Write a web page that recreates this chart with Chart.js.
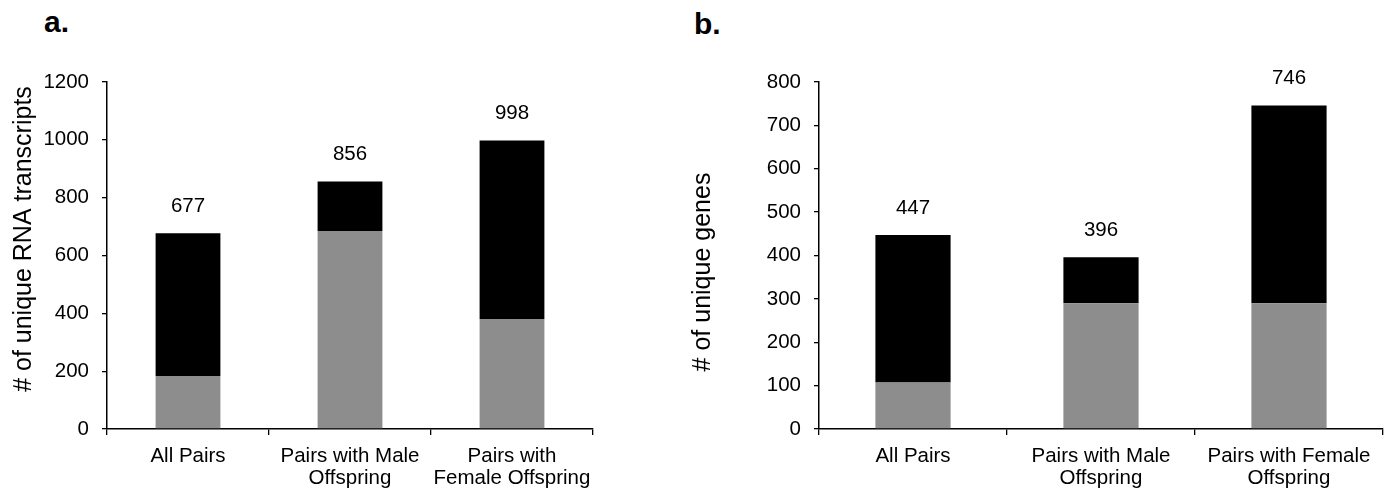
<!DOCTYPE html>
<html>
<head>
<meta charset="utf-8">
<script src="https://cdn.jsdelivr.net/npm/chart.js@4"></script>
<style>
  body { margin: 0; background: #fff; font-family: "Liberation Sans", Arial, sans-serif; }
  .panel { position: absolute; top: 0; height: 492px; }
  .tag { position: absolute; font: bold 30px "Liberation Sans", Arial, sans-serif; color: #000; }
</style>
</head>
<body>
<div class="tag" style="left:44px;top:5px">a.</div>
<div class="tag" style="left:694px;top:7px">b.</div>
<div class="panel" style="left:0;width:650px"><canvas id="chartA"></canvas></div>
<div class="panel" style="left:660px;width:728px"><canvas id="chartB"></canvas></div>
<script>
const categories = [["All Pairs"], ["Pairs with Male", "Offspring"], ["Pairs with", "Female Offspring"]];
const categoriesB = [["All Pairs"], ["Pairs with Male", "Offspring"], ["Pairs with Female", "Offspring"]];

// a. transcripts
const transcriptsGray = [183, 685, 380];
const transcriptsBlack = [494, 171, 618];
// b. genes
const genesGray = [107, 290, 290];
const genesBlack = [340, 106, 456];

const GRAY = '#8d8d8d';
const FONT = { family: '"Liberation Sans", Arial, sans-serif', size: 20.5 };

// total above each stacked bar
const totalLabels = {
  id: 'totalLabels',
  afterDatasetsDraw(chart) {
    const ctx = chart.ctx;
    const top = chart.getDatasetMeta(chart.data.datasets.length - 1);
    ctx.save();
    ctx.font = '20.5px "Liberation Sans", Arial, sans-serif';
    ctx.fillStyle = '#000';
    ctx.textAlign = 'center';
    ctx.textBaseline = 'alphabetic';
    top.data.forEach((bar, i) => {
      const total = chart.data.datasets.reduce((s, d) => s + d.data[i], 0);
      ctx.fillText(total, bar.x, bar.y - 21);
    });
    ctx.restore();
  }
};

// rotated y title
const sideTitle = {
  id: 'sideTitle',
  afterDraw(chart, args, opts) {
    const ctx = chart.ctx;
    ctx.save();
    ctx.translate(opts.x, opts.y);
    ctx.rotate(-Math.PI / 2);
    ctx.font = '25px "Liberation Sans", Arial, sans-serif';
    ctx.fillStyle = '#000';
    ctx.textAlign = 'center';
    ctx.textBaseline = 'middle';
    ctx.fillText(opts.text, 0, 0);
    ctx.restore();
  }
};

function makeChart(id, labels, gray, black, max, step, yWidth, padRight, title) {
  new Chart(document.getElementById(id), {
    type: 'bar',
    data: {
      labels: labels,
      datasets: [
        { data: gray, backgroundColor: GRAY, barPercentage: 0.4, categoryPercentage: 1 },
        { data: black, backgroundColor: '#000', barPercentage: 0.4, categoryPercentage: 1 }
      ]
    },
    options: {
      responsive: true,
      maintainAspectRatio: false,
      animation: false,
      layout: { padding: { top: 82, right: padRight, left: 0, bottom: 0 } },
      plugins: { legend: { display: false }, tooltip: { enabled: false }, sideTitle: title },
      scales: {
        x: {
          stacked: true,
          offset: true,
          grid: { offset: true, drawOnChartArea: false, color: '#000', tickLength: 6, lineWidth: 1.3 },
          border: { color: '#000', width: 1.5 },
          ticks: { color: '#000', font: { ...FONT, lineHeight: 1.1 }, padding: 10, maxRotation: 0, autoSkip: false },
          afterFit: s => { s.height = 63; }
        },
        y: {
          stacked: true,
          min: 0,
          max: max,
          grid: { drawOnChartArea: false, color: '#000', tickLength: 5, lineWidth: 1.3 },
          border: { color: '#000', width: 1.5 },
          ticks: { stepSize: step, color: '#000', font: FONT, padding: 13, callback: v => String(v) },
          afterFit: s => { s.width = yWidth; }
        }
      }
    },
    plugins: [totalLabels, sideTitle]
  });
}

makeChart('chartA', categories, transcriptsGray, transcriptsBlack, 1200, 200, 107, 57,
  { text: '# of unique RNA transcripts', x: 24, y: 239 });
makeChart('chartB', categoriesB, genesGray, genesBlack, 800, 100, 159, 5,
  { text: '# of unique genes', x: 43, y: 272 });
</script>
</body>
</html>
